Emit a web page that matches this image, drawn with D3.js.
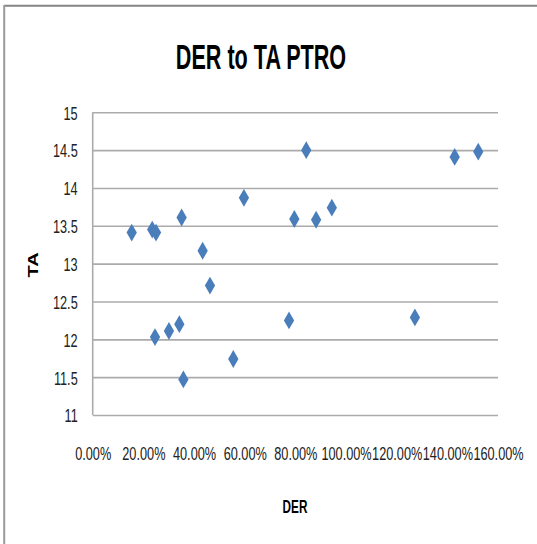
<!DOCTYPE html>
<html>
<head>
<meta charset="utf-8">
<script src="https://cdn.jsdelivr.net/npm/d3@7/dist/d3.min.js"></script>
<style>
  html, body { margin: 0; padding: 0; background: #fff; }
  svg { display: block; }
</style>
</head>
<body>
<svg id="chart" width="537" height="544"></svg>
<script>
// ---- data ----
const titleText = "DER to TA PTRO";
const xLabel = "DER";
const yLabel = "TA";
const derValues = [0.154, 0.235, 0.250, 0.351, 0.434, 0.463, 0.597, 0.796, 0.246, 0.301, 0.342, 0.358, 0.555, 0.775, 0.843, 1.429, 1.522, 0.882, 0.944, 1.272];
const taValues  = [13.41, 13.45, 13.41, 13.61, 13.17, 12.71, 13.87, 13.59, 12.03, 12.11, 12.20, 11.47, 11.74, 12.25, 14.50, 14.41, 14.48, 13.58, 13.74, 12.29];
const xTicks = [0, 0.2, 0.4, 0.6, 0.8, 1.0, 1.2, 1.4, 1.6];
const xTickLabels = ["0.00%", "20.00%", "40.00%", "60.00%", "80.00%", "100.00%", "120.00%", "140.00%", "160.00%"];
const yTicks = [11, 11.5, 12, 12.5, 13, 13.5, 14, 14.5, 15];
const yTickLabels = ["11", "11.5", "12", "12.5", "13", "13.5", "14", "14.5", "15"];

(function () {
const points = derValues.map((d, i) => ({ x: d, y: taValues[i] }));

const svg = d3.select("#chart");
const W = 537, H = 544;
const pLeft = 92.7, pRight = 498, pTop = 112.3, pBottom = 415;
const SX = 0.67;          // horizontal text compression seen in reference
const font = "'Liberation Sans', Arial, sans-serif";
const gridColor = "#ababab";

const x = d3.scaleLinear().domain([0, 1.6]).range([pLeft, pRight]);
const y = d3.scaleLinear().domain([11, 15]).range([pBottom, pTop]);

// outer border (top + left visible)
svg.append("line").attr("x1", 4).attr("x2", W).attr("y1", 5.8).attr("y2", 5.8)
  .attr("stroke", "#858585").attr("stroke-width", 2);
svg.append("line").attr("x1", 4.2).attr("x2", 4.2).attr("y1", 5).attr("y2", H)
  .attr("stroke", "#9a9a9a").attr("stroke-width", 2);

// gridlines via axis
const yGrid = d3.axisLeft(y).tickValues(yTicks).tickSize(-(pRight - pLeft)).tickFormat("");
const gGrid = svg.append("g").attr("transform", `translate(${pLeft},0)`).call(yGrid);
gGrid.select(".domain").remove();
gGrid.selectAll(".tick line").attr("stroke", gridColor).attr("stroke-width", 1.6);

// left axis line
svg.append("line").attr("x1", pLeft).attr("x2", pLeft).attr("y1", pTop).attr("y2", pBottom)
  .attr("stroke", gridColor).attr("stroke-width", 1.6);

// y tick labels
const yAxis = d3.axisLeft(y).tickValues(yTicks).tickSize(0)
  .tickFormat((d, i) => yTickLabels[i]);
const gy = svg.append("g").attr("transform", `translate(${pLeft},0)`).call(yAxis);
gy.select(".domain").remove();
gy.selectAll(".tick text")
  .attr("x", -15 / SX).attr("dy", "0.36em")
  .attr("transform", `scale(${SX},1)`)
  .attr("font-family", font).attr("font-size", 19).attr("fill", "#222")
  .attr("text-anchor", "end");

// x tick labels
const xAxis = d3.axisBottom(x).tickValues(xTicks).tickSize(0)
  .tickFormat((d, i) => xTickLabels[i]);
const gx = svg.append("g").attr("transform", `translate(0,${pBottom})`).call(xAxis);
gx.select(".domain").remove();
gx.selectAll(".tick text")
  .attr("y", 45).attr("dy", 0)
  .attr("transform", `scale(${SX},1)`)
  .attr("font-family", font).attr("font-size", 19).attr("fill", "#222")
  .attr("text-anchor", "middle");

// points
const sym = d3.symbol().type(d3.symbolDiamond).size(92);
svg.append("g").selectAll("path").data(points).join("path")
  .attr("d", sym)
  .attr("transform", d => `translate(${x(d.x)},${y(d.y)})`)
  .attr("fill", "#4a7ebb");

// title
svg.append("text").text(titleText)
  .attr("transform", `translate(261,69) scale(0.6,1)`)
  .attr("text-anchor", "middle")
  .attr("font-family", font).attr("font-weight", "bold").attr("font-size", 36)
  .attr("fill", "#000");

// x axis title
svg.append("text").text(xLabel)
  .attr("transform", `translate(295,513) scale(0.62,1)`)
  .attr("text-anchor", "middle")
  .attr("font-family", font).attr("font-weight", "bold").attr("font-size", 19)
  .attr("fill", "#000");

// y axis title
svg.append("text").text(yLabel)
  .attr("transform", `translate(38,265) scale(0.7,1) rotate(-90)`)
  .attr("text-anchor", "middle")
  .attr("font-family", font).attr("font-weight", "bold").attr("font-size", 20)
  .attr("fill", "#000");
})();
</script>
</body>
</html>
